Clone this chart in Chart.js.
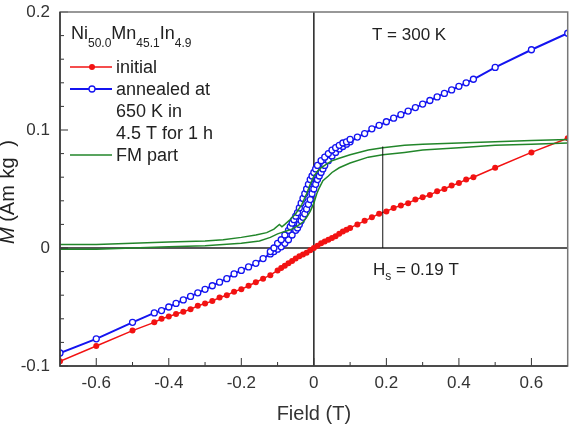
<!DOCTYPE html>
<html lang="en">
<head>
<meta charset="UTF-8">
<title>Ni50.0Mn45.1In4.9 magnetization</title>
<script src="https://cdn.jsdelivr.net/npm/chart.js"></script>
<style>
  body { margin: 0; background: #fff; }
  canvas { display: block; }
</style>
</head>
<body>
<canvas id="chart" width="573" height="426"></canvas>
<script>
// values: field in T, M in Am2/kg
const initialField = [-0.7, -0.6, -0.5,
  -0.44, -0.42, -0.40, -0.38, -0.36, -0.34, -0.32, -0.30, -0.28, -0.26, -0.24, -0.22, -0.20,
  -0.18, -0.16, -0.14, -0.12, -0.10, -0.09, -0.08, -0.07, -0.06, -0.05, -0.04, -0.03, -0.02, -0.01, 0,
  0.01, 0.02, 0.03, 0.04, 0.05, 0.06, 0.07, 0.08, 0.09, 0.10,
  0.12, 0.14, 0.16, 0.18, 0.20, 0.22, 0.24, 0.26, 0.28, 0.30,
  0.32, 0.34, 0.36, 0.38, 0.40, 0.42, 0.44, 0.5, 0.6, 0.7]
const initialM = [-0.096, -0.083, -0.070,
  -0.063, -0.060, -0.058, -0.056, -0.054, -0.052, -0.049, -0.047, -0.045, -0.042, -0.040, -0.037, -0.035,
  -0.032, -0.029, -0.026, -0.023, -0.019, -0.017, -0.015, -0.013, -0.011, -0.009, -0.007, -0.0055, -0.004, -0.002, 0,
  0.002, 0.004, 0.0055, 0.007, 0.0085, 0.010, 0.012, 0.014, 0.0155, 0.017,
  0.020, 0.023, 0.026, 0.029, 0.031, 0.034, 0.036, 0.038, 0.041, 0.043,
  0.045, 0.048, 0.050, 0.053, 0.055, 0.058, 0.060, 0.068, 0.081, 0.093]

// annealed sample, increasing-field branch (full range)
const annealedUpField = [-0.7, -0.6, -0.5,
  -0.44, -0.42, -0.40, -0.38, -0.36, -0.34, -0.32, -0.30, -0.28, -0.26, -0.24, -0.22, -0.20, -0.18, -0.16, -0.14,
  -0.12, -0.11, -0.10, -0.09, -0.08, -0.07, -0.06,
  -0.05, -0.045, -0.04, -0.035, -0.03, -0.025, -0.02, -0.015, -0.01, -0.005, 0,
  0.005, 0.01, 0.015, 0.02, 0.025, 0.03,
  0.04, 0.05, 0.06, 0.07, 0.08, 0.09, 0.10,
  0.12, 0.14, 0.16, 0.18, 0.20, 0.22, 0.24, 0.26, 0.28, 0.30, 0.32, 0.34, 0.36, 0.38, 0.40, 0.42, 0.44,
  0.5, 0.6, 0.7]
const annealedUpM = [-0.089, -0.077, -0.063,
  -0.055, -0.053, -0.050, -0.047, -0.044, -0.041, -0.038, -0.035, -0.032, -0.029, -0.026, -0.022, -0.019, -0.016, -0.013, -0.009,
  -0.005, -0.003, -0.001, 0.001, 0.004, 0.007, 0.011,
  0.015, 0.017, 0.020, 0.023, 0.026, 0.029, 0.033, 0.037, 0.041, 0.046, 0.050,
  0.054, 0.058, 0.061, 0.064, 0.067, 0.070,
  0.074, 0.078, 0.081, 0.084, 0.086, 0.088, 0.090,
  0.094, 0.097, 0.101, 0.104, 0.107, 0.110, 0.113, 0.116, 0.119, 0.122, 0.125, 0.128, 0.131, 0.134, 0.137, 0.140, 0.143,
  0.153, 0.168, 0.182]

// annealed sample, decreasing-field branch (only where the loop opens)
const annealedDownField = [-0.12, -0.11, -0.10, -0.09, -0.08,
  -0.07, -0.065, -0.06, -0.055, -0.05, -0.045, -0.04, -0.035, -0.03, -0.025, -0.02, -0.015, -0.01, -0.005, 0, 0.005, 0.01,
  0.02, 0.03, 0.04, 0.05, 0.06, 0.07, 0.08, 0.09, 0.10]
const annealedDownM = [-0.003, 0.000, 0.004, 0.007, 0.011,
  0.015, 0.018, 0.021, 0.024, 0.027, 0.030, 0.034, 0.038, 0.042, 0.046, 0.050, 0.054, 0.058, 0.061, 0.064, 0.067, 0.070,
  0.074, 0.077, 0.080, 0.083, 0.085, 0.087, 0.089, 0.090, 0.092]

// FM part, two branches
const fmUpperField = [-0.7, -0.6, -0.5, -0.4, -0.3, -0.25, -0.2, -0.16, -0.13, -0.11, -0.095, -0.088, -0.08,
  -0.066, -0.05, -0.033, -0.02, -0.01, 0, 0.01, 0.02, 0.035, 0.05, 0.07, 0.1, 0.15, 0.19, 0.25, 0.3, 0.4, 0.5, 0.6, 0.7]
const fmUpperM = [0.003, 0.003, 0.004, 0.005, 0.006, 0.007, 0.009, 0.011, 0.013, 0.016, 0.020, 0.018, 0.020,
  0.024, 0.029, 0.037, 0.046, 0.054, 0.061, 0.065, 0.068, 0.071, 0.074, 0.076, 0.079, 0.083, 0.085, 0.087, 0.088, 0.089, 0.090, 0.091, 0.092]
const fmLowerField = [-0.7, -0.6, -0.5, -0.4, -0.3, -0.2, -0.15, -0.12, -0.1, -0.09, -0.08, -0.06, -0.044,
  -0.03, -0.02, -0.01, 0, 0.008, 0.015, 0.025, 0.04, 0.05, 0.07, 0.1, 0.15, 0.19, 0.25, 0.3, 0.4, 0.5, 0.6, 0.7]
const fmLowerM = [-0.001, -0.001, 0.000, 0.001, 0.002, 0.004, 0.006, 0.009, 0.012, 0.013, 0.014, 0.016, 0.019,
  0.022, 0.026, 0.031, 0.038, 0.046, 0.051, 0.057, 0.061, 0.064, 0.068, 0.072, 0.077, 0.079, 0.081, 0.083, 0.085, 0.087, 0.088, 0.089]

// saturation field marker
const hsField = [0.19, 0.19]
const hsM = [0, 0.086]

// axes
const xTickValues = [-0.6, -0.4, -0.2, 0, 0.2, 0.4, 0.6]
const xMinorTicks = [-0.5, -0.3, -0.1, 0.1, 0.3, 0.5]
const yTickValues = [-0.1, 0, 0.1, 0.2]
const yMinorTicks = [-0.08, -0.06, -0.04, -0.02, 0.02, 0.04, 0.06, 0.08, 0.12, 0.14, 0.16, 0.18]

// texts
const formulaParts = [['Ni', false], ['50.0', true], ['Mn', false], ['45.1', true], ['In', false], ['4.9', true]]
const legendRows = ['initial', 'annealed at', '650 K in', '4.5 T for 1 h', 'FM part']
const tempLabel = 'T = 300 K'
const hsLabel = ['H', 's', ' = 0.19 T']

const fam = '"Liberation Sans", Arial, Helvetica, sans-serif'
const red = '#f21212'
const blue = '#1414f0'
const green = '#22862a'

function pts(xs, ys) {
  return xs.map((v, i) => ({x: v, y: ys[i]}))
}
function fmt(v) {
  return v === 0 ? '0' : String(Number(v.toFixed(1)))
}

// box, zero lines and inward ticks
const frame = {
  id: 'frame',
  beforeDatasetsDraw(chart) {
    const {ctx, chartArea: a, scales: {x, y}} = chart
    ctx.save()
    ctx.strokeStyle = '#222'
    ctx.lineWidth = 1.5
    let x0 = x.getPixelForValue(0), y0 = y.getPixelForValue(0)
    ctx.beginPath()
    ctx.moveTo(x0, a.top); ctx.lineTo(x0, a.bottom)
    ctx.moveTo(a.left, y0); ctx.lineTo(a.right, y0)
    ctx.stroke()
    ctx.restore()
  },
  afterDatasetsDraw(chart) {
    const {ctx, chartArea: a, scales: {x, y}} = chart
    ctx.save()
    ctx.strokeStyle = '#333'
    ctx.lineWidth = 1
    ctx.beginPath()
    for (let v of xTickValues) { let p = x.getPixelForValue(v); ctx.moveTo(p, a.bottom); ctx.lineTo(p, a.bottom - 8) }
    for (let v of xMinorTicks) { let p = x.getPixelForValue(v); ctx.moveTo(p, a.bottom); ctx.lineTo(p, a.bottom - 4) }
    for (let v of yTickValues) { let p = y.getPixelForValue(v); ctx.moveTo(a.left, p); ctx.lineTo(a.left + 8, p) }
    for (let v of yMinorTicks) { let p = y.getPixelForValue(v); ctx.moveTo(a.left, p); ctx.lineTo(a.left + 4, p) }
    ctx.stroke()
    // frame: darker on left/bottom
    ctx.lineWidth = 1.5
    ctx.strokeStyle = '#777'
    ctx.strokeRect(a.left, a.top, a.right - a.left, a.bottom - a.top)
    ctx.strokeStyle = '#333'
    ctx.beginPath()
    ctx.moveTo(a.left, a.top); ctx.lineTo(a.left, a.bottom); ctx.lineTo(a.right, a.bottom)
    ctx.stroke()
    ctx.restore()
  }
}

// legend, formula, annotations, y title
const notes = {
  id: 'notes',
  afterDraw(chart) {
    const ctx = chart.ctx
    ctx.save()
    ctx.fillStyle = '#222'
    ctx.textBaseline = 'alphabetic'
    ctx.textAlign = 'left'

    let cx = 71
    for (const [t, sub] of formulaParts) {
      ctx.font = (sub ? 12 : 18) + 'px ' + fam
      ctx.fillText(t, cx, sub ? 47 : 39)
      cx += ctx.measureText(t).width
    }

    ctx.font = '18px ' + fam
    let rowY = [73, 95, 117, 139, 161]
    legendRows.forEach((t, i) => ctx.fillText(t, 116, rowY[i]))

    // legend samples
    ctx.lineWidth = 1.5
    ctx.strokeStyle = red
    ctx.beginPath(); ctx.moveTo(70, 67); ctx.lineTo(112, 67); ctx.stroke()
    ctx.fillStyle = red
    ctx.beginPath(); ctx.arc(92, 67, 3, 0, Math.PI * 2); ctx.fill()
    ctx.strokeStyle = blue
    ctx.lineWidth = 2
    ctx.beginPath(); ctx.moveTo(70, 89); ctx.lineTo(112, 89); ctx.stroke()
    ctx.fillStyle = '#fff'
    ctx.lineWidth = 1.3
    ctx.beginPath(); ctx.arc(92, 89, 3, 0, Math.PI * 2); ctx.fill(); ctx.stroke()
    ctx.strokeStyle = green
    ctx.lineWidth = 1.5
    ctx.beginPath(); ctx.moveTo(70, 155); ctx.lineTo(112, 155); ctx.stroke()

    ctx.fillStyle = '#222'
    ctx.font = '17px ' + fam
    ctx.fillText(tempLabel, 372, 40)

    cx = 373
    ctx.fillText(hsLabel[0], cx, 275)
    cx += ctx.measureText(hsLabel[0]).width
    ctx.font = '12px ' + fam
    ctx.fillText(hsLabel[1], cx, 280)
    cx += ctx.measureText(hsLabel[1]).width
    ctx.font = '17px ' + fam
    ctx.fillText(hsLabel[2], cx, 275)

    // rotated y title: M (Am2kg-1), superscripts run off the left edge like the original
    const parts = [['M', 'italic 20px ', 0], [' (Am', '20px ', 0], ['2', '12px ', -17], ['kg', '20px ', 0], ['-1', '12px ', -17], [')', '20px ', 0]]
    let total = 0
    for (const p of parts) { ctx.font = p[1] + fam; total += ctx.measureText(p[0]).width }
    ctx.translate(14, 192)
    ctx.rotate(-Math.PI / 2)
    let px = -total / 2
    for (const p of parts) {
      ctx.font = p[1] + fam
      ctx.fillText(p[0], px, p[2])
      px += ctx.measureText(p[0]).width
    }
    ctx.restore()
  }
}

new Chart(document.getElementById('chart'), {
  type: 'scatter',
  data: {
    datasets: [
      {data: pts(hsField, hsM), showLine: true, borderColor: '#111', borderWidth: 1, pointRadius: 0},
      {data: pts(fmUpperField, fmUpperM), showLine: true, borderColor: green, borderWidth: 1.5, pointRadius: 0},
      {data: pts(fmLowerField, fmLowerM), showLine: true, borderColor: green, borderWidth: 1.5, pointRadius: 0},
      {data: pts(initialField, initialM), showLine: true, borderColor: red, borderWidth: 1.5,
        pointRadius: 3, pointBackgroundColor: red, pointBorderColor: red, pointBorderWidth: 0},
      {data: pts(annealedDownField, annealedDownM), showLine: true, borderColor: blue, borderWidth: 2,
        pointRadius: 3, pointBackgroundColor: '#fff', pointBorderColor: blue, pointBorderWidth: 1.3},
      {data: pts(annealedUpField, annealedUpM), showLine: true, borderColor: blue, borderWidth: 2,
        pointRadius: 3, pointBackgroundColor: '#fff', pointBorderColor: blue, pointBorderWidth: 1.3}
    ]
  },
  options: {
    responsive: false,
    animation: false,
    layout: {padding: {top: 12, right: 4, left: 0, bottom: 0}},
    plugins: {legend: {display: false}, tooltip: {enabled: false}},
    scales: {
      x: {
        type: 'linear', min: -0.7, max: 0.7,
        grid: {display: false, drawTicks: false},
        border: {display: false},
        afterBuildTicks: s => { s.ticks = xTickValues.map(v => ({value: v})) },
        afterFit: s => { s.height = 60; s.paddingLeft = 0; s.paddingRight = 0 },
        ticks: {font: {family: fam, size: 17}, color: '#333', padding: 7, maxRotation: 0, autoSkip: false, callback: v => fmt(v)},
        title: {display: true, text: 'Field (T)', font: {family: fam, size: 20}, color: '#333', padding: {top: 0, bottom: 0}}
      },
      y: {
        type: 'linear', min: -0.1, max: 0.2,
        grid: {display: false, drawTicks: false},
        border: {display: false},
        afterBuildTicks: s => { s.ticks = yTickValues.map(v => ({value: v})) },
        afterFit: s => { s.width = 60; s.paddingTop = 0; s.paddingBottom = 0 },
        ticks: {font: {family: fam, size: 17}, color: '#333', padding: 10, autoSkip: false, callback: v => fmt(v)}
      }
    }
  },
  plugins: [frame, notes]
})
</script>
</body>
</html>
